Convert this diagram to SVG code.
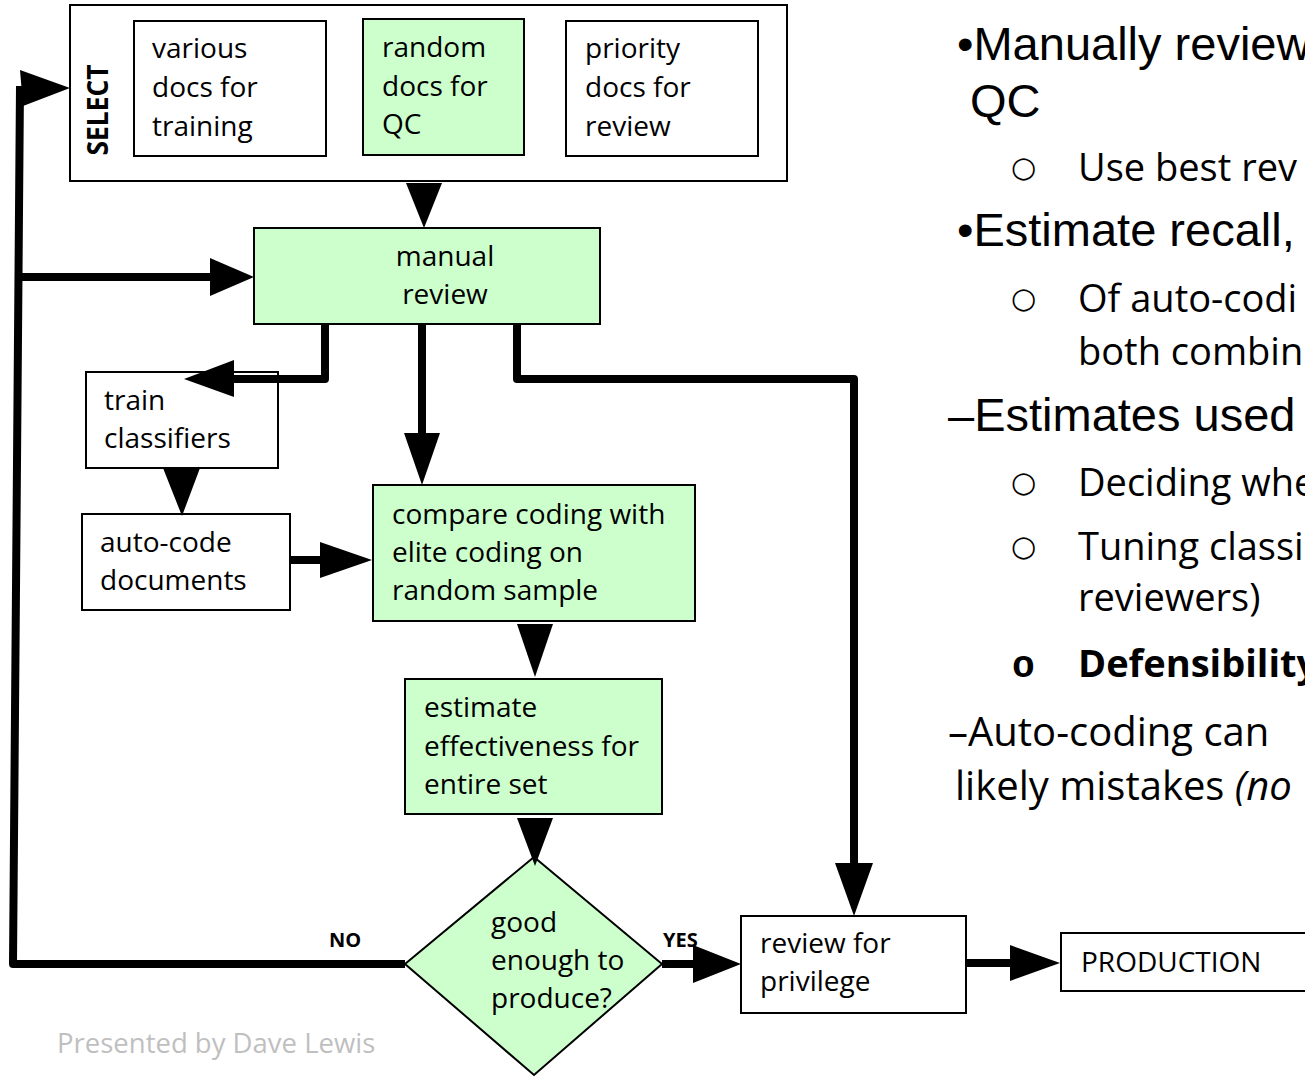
<svg xmlns="http://www.w3.org/2000/svg" width="1305" height="1077" viewBox="0 0 1305 1077">
  <style>
    .box { fill: #ffffff; stroke: #000000; stroke-width: 2; }
    .green { fill: #ccffcc; stroke: #000000; stroke-width: 2; }
    .lbl { font-family: "Open Sans", "Liberation Sans", sans-serif; font-size: 28px; fill: #000000; }
    .mid { text-anchor: middle; }
    .tag { font-family: "Open Sans", "Liberation Sans", sans-serif; font-size: 20px; font-weight: bold; fill: #000000; }
    .wire { fill: none; stroke: #000000; stroke-width: 8; stroke-linejoin: round; stroke-linecap: butt; }
    .head { fill: #000000; stroke: none; }
    .big { font-family: "Liberation Sans", Arial, sans-serif; font-size: 47px; fill: #000000; }
    .sub { font-family: "Open Sans", "Liberation Sans", sans-serif; font-size: 38px; fill: #000000; }
    .sub2 { font-family: "Open Sans", "Liberation Sans", sans-serif; font-size: 40px; fill: #000000; }
    .dot { font-family: "DejaVu Sans", sans-serif; font-size: 29px; fill: #000000; }
    .bdot { font-family: "Liberation Mono", "DejaVu Sans Mono", monospace; font-size: 38px; font-weight: bold; fill: #000000; }
    .credit { font-family: "Open Sans", "Liberation Sans", sans-serif; font-size: 27.5px; fill: #bfbfbf; }
  </style>

  <!-- selection stage with its three document sources -->
  <g id="select">
    <rect class="box" x="70" y="5" width="717" height="176"/>
    <text class="lbl" x="108" y="110" font-weight="bold" text-anchor="middle" textLength="91" lengthAdjust="spacingAndGlyphs" transform="rotate(-90 108 110)">SELECT</text>
  </g>
  <g id="various-docs">
    <rect class="box" x="134" y="21" width="192" height="135"/>
    <text class="lbl" x="152" y="58">various</text>
    <text class="lbl" x="152" y="97">docs for</text>
    <text class="lbl" x="152" y="136">training</text>
  </g>
  <g id="random-docs">
    <rect class="green" x="363" y="19" width="161" height="136"/>
    <text class="lbl" x="382" y="57">random</text>
    <text class="lbl" x="382" y="96">docs for</text>
    <text class="lbl" x="382" y="134">QC</text>
  </g>
  <g id="priority-docs">
    <rect class="box" x="566" y="21" width="192" height="135"/>
    <text class="lbl" x="585" y="58">priority</text>
    <text class="lbl" x="585" y="97">docs for</text>
    <text class="lbl" x="585" y="136">review</text>
  </g>

  <g id="manual-review">
    <rect class="green" x="254" y="228" width="346" height="96"/>
    <text class="lbl mid" x="445" y="266">manual</text>
    <text class="lbl mid" x="445" y="304">review</text>
  </g>

  <g id="train-classifiers">
    <rect class="box" x="86" y="372" width="192" height="96"/>
    <text class="lbl" x="104" y="410">train</text>
    <text class="lbl" x="104" y="448">classifiers</text>
  </g>

  <g id="auto-code">
    <rect class="box" x="82" y="514" width="208" height="96"/>
    <text class="lbl" x="100" y="552">auto-code</text>
    <text class="lbl" x="100" y="590">documents</text>
  </g>

  <g id="compare">
    <rect class="green" x="373" y="485" width="322" height="136"/>
    <text class="lbl" x="392" y="524">compare coding with</text>
    <text class="lbl" x="392" y="562">elite coding on</text>
    <text class="lbl" x="392" y="600">random sample</text>
  </g>

  <g id="estimate">
    <rect class="green" x="405" y="679" width="257" height="135"/>
    <text class="lbl" x="424" y="717">estimate</text>
    <text class="lbl" x="424" y="756">effectiveness for</text>
    <text class="lbl" x="424" y="794">entire set</text>
  </g>

  <g id="decision">
    <polygon class="green" stroke-width="1.5" points="534,857 662,964 534,1075 405,964"/>
    <text class="lbl" x="491" y="932">good</text>
    <text class="lbl" x="491" y="970">enough to</text>
    <text class="lbl" x="491" y="1008">produce?</text>
  </g>

  <g id="privilege-review">
    <rect class="box" x="741" y="916" width="225" height="97"/>
    <text class="lbl" x="760" y="953">review for</text>
    <text class="lbl" x="760" y="991">privilege</text>
  </g>

  <g id="production">
    <rect class="box" x="1061" y="933" width="260" height="58"/>
    <text class="lbl" x="1081" y="972">PRODUCTION</text>
  </g>

  <!-- connectors -->
  <g id="connectors">
    <!-- NO loop back to selection -->
    <path class="wire" d="M405,964 L13,964 L20,86"/>
    <polygon class="head" points="20,70 70,88 23,106"/>
    <path class="wire" d="M18,277 L214,277"/>
    <polygon class="head" points="210,258 254,277 210,296"/>

    <!-- select to manual review -->
    <polygon class="head" points="406,183 442,183 424,228"/>

    <!-- manual review branches -->
    <path class="wire" d="M325,324 L325,379 L230,379"/>
    <polygon class="head" points="234,360 184,379 234,397"/>
    <path class="wire" d="M422,324 L422,436"/>
    <polygon class="head" points="404,433 440,433 422,485"/>
    <path class="wire" d="M517,324 L517,379 L854,379 L854,866"/>
    <polygon class="head" points="835,863 873,863 854,916"/>

    <!-- train to auto-code -->
    <polygon class="head" points="163,468 200,468 182,516"/>

    <!-- auto-code to compare -->
    <path class="wire" d="M290,560 L323,560"/>
    <polygon class="head" points="320,542 372,560 320,578"/>

    <!-- compare to estimate -->
    <polygon class="head" points="517,624 553,624 535,677"/>

    <!-- estimate to decision -->
    <polygon class="head" points="517,818 553,818 535,866"/>

    <!-- YES to privilege review -->
    <path class="wire" d="M662,964 L696,964"/>
    <polygon class="head" points="693,945 741,964 693,983"/>

    <!-- privilege review to production -->
    <path class="wire" d="M966,963 L1013,963"/>
    <polygon class="head" points="1010,945 1060,963 1010,981"/>

    <text class="tag" x="329" y="947">NO</text>
    <text class="tag" x="663" y="947">YES</text>
  </g>

  <!-- bullet notes -->
  <g id="notes">
    <text class="big" x="957" y="60">•Manually review</text>
    <text class="big" x="970" y="117">QC</text>
    <text class="dot" x="1011" y="177">○</text>
    <text class="sub" x="1078" y="181">Use best rev</text>
    <text class="big" x="957" y="246">•Estimate recall,</text>
    <text class="dot" x="1011" y="308">○</text>
    <text class="sub" x="1078" y="312">Of auto-codi</text>
    <text class="sub" x="1078" y="365">both combin</text>
    <text class="big" x="948" y="431">–Estimates used</text>
    <text class="dot" x="1011" y="492">○</text>
    <text class="sub" x="1078" y="496">Deciding whe</text>
    <text class="dot" x="1011" y="556">○</text>
    <text class="sub" x="1078" y="560">Tuning classi</text>
    <text class="sub" x="1078" y="611">reviewers)</text>
    <text class="bdot" x="1012" y="677">o</text>
    <text class="sub" x="1078" y="677" font-weight="bold">Defensibility</text>
    <text class="sub2" x="948" y="746">–Auto-coding can</text>
    <text class="sub2" x="955" y="800">likely mistakes <tspan font-style="italic">(no</tspan></text>
  </g>

  <text class="credit" x="57" y="1053">Presented by Dave Lewis</text>
</svg>
